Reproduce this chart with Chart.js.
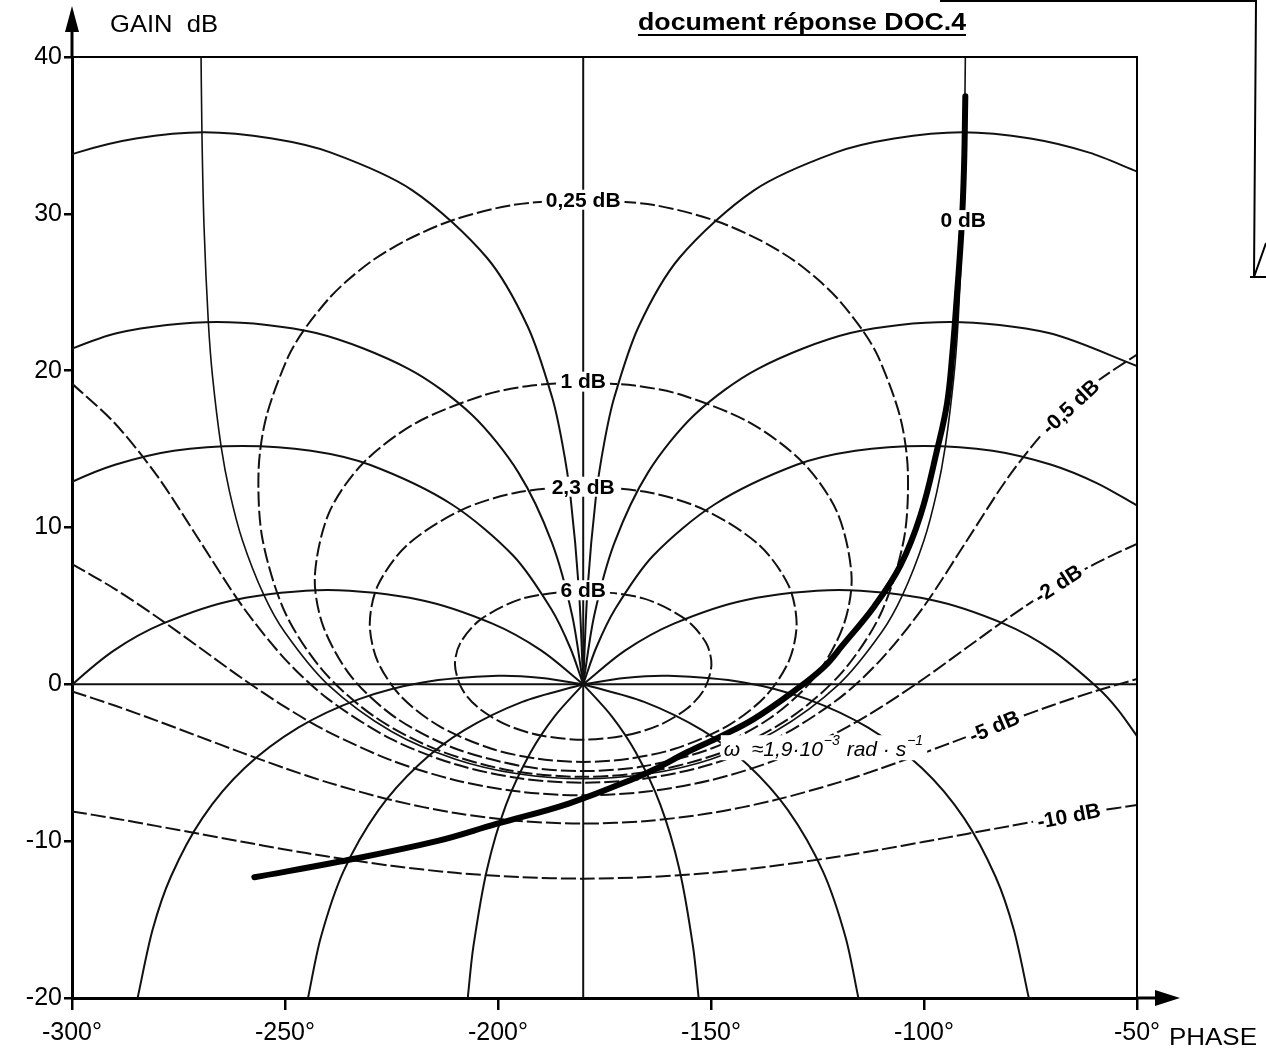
<!DOCTYPE html>
<html lang="fr">
<head>
<meta charset="UTF-8">
<title>Abaque de Black - document réponse DOC.4</title>
<script src="https://cdn.jsdelivr.net/npm/chart.js"></script>
<style>
  body { margin: 0; background: #fff; }
  canvas { display: block; }
</style>
</head>
<body>
<canvas id="black" width="1266" height="1054"></canvas>
<script>
// graduations
const phaseTicks = [-300, -250, -200, -150, -100, -50];
const gainTicks = [-20, -10, 0, 10, 20, 30, 40];

const module025 = [[-180,30.94],[-163.4,30.56],[-149.3,29.59],[-138.5,28.32],[-130.5,27.02],[-124.7,25.76],[-120.3,24.6],[-114.4,22.57],[-110.7,20.86],[-105.6,17.05],[-103.8,13.64],[-104.7,9.28],[-110.1,4.53],[-119.1,0.81],[-131,-2.06],[-145.6,-4.16],[-162.8,-5.49],[-180,-5.9],[-197.2,-5.49],[-214.4,-4.16],[-229,-2.06],[-240.9,0.81],[-249.9,4.53],[-255.3,9.28],[-256.2,13.64],[-254.4,17.05],[-249.3,20.86],[-245.6,22.57],[-239.7,24.6],[-235.3,25.76],[-229.5,27.02],[-221.5,28.32],[-210.7,29.59],[-196.6,30.56],[-180,30.94]];
const module1 = [[-180,19.27],[-167.9,19.05],[-157,18.46],[-140.7,16.66],[-128.3,14.1],[-120.3,10.92],[-117,6.86],[-119,3.68],[-125.7,0.44],[-136.1,-2.15],[-149.6,-4.06],[-165.9,-5.23],[-180,-5.53],[-194.1,-5.23],[-210.4,-4.06],[-223.9,-2.15],[-234.3,0.44],[-241,3.68],[-243,6.86],[-239.7,10.92],[-231.7,14.1],[-219.3,16.66],[-203,18.46],[-192.1,19.05],[-180,19.27]];
const module23 = [[-180,12.67],[-164.2,12.22],[-151.4,11.11],[-138.7,8.89],[-131.8,6.31],[-129.9,3.86],[-131.7,1.5],[-137.2,-0.76],[-146.3,-2.68],[-158.5,-4.11],[-169.2,-4.74],[-180,-4.95],[-190.8,-4.74],[-201.5,-4.11],[-213.7,-2.68],[-222.8,-0.76],[-228.3,1.5],[-230.1,3.86],[-228.2,6.31],[-221.3,8.89],[-208.6,11.11],[-195.8,12.22],[-180,12.67]];
const module6 = [[-180,6.04],[-165.9,5.48],[-156.1,4.17],[-151.2,2.66],[-149.9,1.25],[-151.6,-0.32],[-155.6,-1.54],[-162.3,-2.62],[-170.1,-3.26],[-180,-3.53],[-189.9,-3.26],[-197.7,-2.62],[-204.4,-1.54],[-208.4,-0.32],[-210.1,1.25],[-208.8,2.66],[-203.9,4.17],[-194.1,5.48],[-180,6.04]];
const module0 = [[-269.75,41.2],[-269.5,35.16],[-269,29.14],[-268,23.12],[-267,19.6],[-265,15.17],[-263,12.26],[-260,9.19],[-255,5.72],[-250,3.3],[-240,0],[-225,-3.01],[-210,-4.77],[-195,-5.72],[-180,-6.02],[-165,-5.72],[-150,-4.77],[-135,-3.01],[-120,0],[-110,3.3],[-105,5.72],[-100,9.19],[-97,12.26],[-95,15.17],[-93,19.6],[-92,23.12],[-91,29.14],[-90.5,35.16],[-90.25,41.2]];
const moduleM05 = [[-300,19.18],[-290,16.66],[-280,13.29],[-270,9.14],[-260,4.98],[-250,1.61],[-240,-0.91],[-225,-3.5],[-210,-5.1],[-195,-5.99],[-180,-6.27],[-165,-5.99],[-150,-5.1],[-135,-3.5],[-120,-0.91],[-110,1.61],[-100,4.98],[-90,9.14],[-80,13.29],[-70,16.66],[-60,19.18],[-50,21.03]];
const moduleM2 = [[-300,7.67],[-290,6.09],[-280,4.28],[-270,2.33],[-260,0.37],[-250,-1.44],[-240,-3.01],[-225,-4.85],[-210,-6.11],[-195,-6.84],[-180,-7.08],[-165,-6.84],[-150,-6.11],[-135,-4.85],[-120,-3.01],[-110,-1.44],[-100,0.37],[-90,2.33],[-80,4.28],[-70,6.09],[-60,7.67],[-50,8.96]];
const moduleM5 = [[-300,-0.45],[-290,-1.35],[-280,-2.33],[-270,-3.35],[-260,-4.37],[-250,-5.35],[-240,-6.25],[-225,-7.38],[-210,-8.21],[-195,-8.71],[-180,-8.88],[-165,-8.71],[-150,-8.21],[-135,-7.38],[-120,-6.25],[-110,-5.35],[-100,-4.37],[-90,-3.35],[-80,-2.33],[-70,-1.35],[-60,-0.45],[-50,0.34]];
const moduleM10 = [[-300,-8.1],[-290,-8.55],[-280,-9.04],[-270,-9.54],[-260,-10.04],[-250,-10.53],[-240,-10.98],[-225,-11.57],[-210,-12.02],[-195,-12.29],[-180,-12.39],[-165,-12.29],[-150,-12.02],[-135,-11.57],[-120,-10.98],[-110,-10.53],[-100,-10.04],[-90,-9.54],[-80,-9.04],[-70,-8.55],[-60,-8.1],[-50,-7.7]];

// contours iso-phase (traits pleins)
const phaseAxe = [[-180,-20],[-180,40]];
const gainZero = [[-300,0],[-50,0]];
const phaseD1 = [[-180,0],[-179,6],[-177,12],[-175.1,15.35],[-172.7,18.3],[-167,22.8],[-157.4,27.2],[-139.9,31.5],[-120.8,33.9],[-107,34.8],[-91,35.2],[-75,34.8],[-61.2,33.9],[-50,32.7]];
const phaseG1 = [[-180,0],[-181,6],[-183,12],[-184.9,15.35],[-187.3,18.3],[-193,22.8],[-202.6,27.2],[-220.1,31.5],[-239.2,33.9],[-253,34.8],[-269,35.2],[-285,34.8],[-298.8,33.9],[-310,32.7]];
const phaseD4 = [[-180,0],[-177.4,4.4],[-172.7,9],[-164.8,13.5],[-153.8,17.2],[-139.1,20.1],[-117.3,22.4],[-94,23.1],[-70.7,22.4],[-50,20.3]];
const phaseG4 = [[-180,0],[-182.6,4.4],[-187.3,9],[-195.2,13.5],[-206.2,17.2],[-220.9,20.1],[-242.7,22.4],[-266,23.1],[-289.3,22.4],[-310,20.3]];
const phaseD10 = [[-180,0],[-177,2.3],[-172.5,4.8],[-163.6,8.2],[-149,11.5],[-129.9,14],[-116.1,14.9],[-100,15.2],[-83.9,14.9],[-70.1,14],[-59.2,12.8],[-50,11.4]];
const phaseG10 = [[-180,0],[-183,2.3],[-187.5,4.8],[-196.4,8.2],[-211,11.5],[-230.1,14],[-243.9,14.9],[-260,15.2],[-276.1,14.9],[-289.9,14],[-300.8,12.8],[-310,11.4]];
const phaseD30 = [[-180,0],[-170.2,2.15],[-158.7,3.87],[-141.8,5.38],[-120,6.02],[-98.2,5.38],[-81.3,3.87],[-69.8,2.15],[-59.1,-0.25],[-54.4,-1.64],[-50,-3.3]];
const phaseG30 = [[-180,0],[-189.8,2.15],[-201.3,3.87],[-218.2,5.38],[-240,6.02],[-261.8,5.38],[-278.7,3.87],[-290.2,2.15],[-300.9,-0.25],[-305.6,-1.64]];
const phaseBasG30 = [[-180,0],[-186.8,-2.07],[-192.3,-4.32],[-198.1,-7.67],[-202.6,-11.82],[-205.8,-16.76],[-207.1,-20]];
const phaseBasD30 = [[-180,0],[-173.2,-2.07],[-167.7,-4.32],[-161.9,-7.67],[-157.4,-11.82],[-154.2,-16.76],[-152.9,-20]];
const phaseD70 = [[-180,0],[-170.3,0.4],[-160,0.54],[-142.3,0.12],[-127.4,-0.94],[-113.2,-2.75],[-100.4,-5.37],[-90.6,-8.53],[-83.2,-12.27],[-78.9,-15.67],[-75.4,-20]];
const phaseG70 = [[-180,0],[-189.7,0.4],[-200,0.54],[-217.7,0.12],[-232.6,-0.94],[-246.8,-2.75],[-259.6,-5.37],[-269.4,-8.53],[-276.8,-12.27],[-281.1,-15.67],[-284.6,-20]];
const phaseBasG70 = [[-180,0],[-194.3,-1.12],[-208,-2.94],[-218.6,-5.13],[-228.1,-8.04],[-236.3,-11.94],[-241.6,-16.14],[-244.6,-20]];
const phaseBasD70 = [[-180,0],[-165.7,-1.12],[-152,-2.94],[-141.4,-5.13],[-131.9,-8.04],[-123.7,-11.94],[-118.4,-16.14],[-115.4,-20]];

// lieu de transfert tracé à la main (trait épais)
const lieu = [[-90.3,37.5],[-90.6,33],[-91.2,29],[-92.3,24.7],[-93.4,20.9],[-94.6,17.9],[-96.8,15.1],[-100.8,10.8],[-105.5,7.6],[-111.6,5],[-119.1,2.5],[-123.5,1.1],[-130.6,-0.45],[-139.9,-2.2],[-147.6,-3.3],[-155.4,-4.3],[-163.1,-5.4],[-168,-6],[-183.4,-7.6],[-200.4,-8.9],[-214.4,-10],[-237.1,-11.3],[-257.2,-12.3]];

const fonte = '"Liberation Sans", Arial, sans-serif';

const etiquettes = [
    { t: '0,25 dB', x: -180, y: 30.9, a: 0 },
    { t: '1 dB', x: -180, y: 19.3, a: 0 },
    { t: '2,3 dB', x: -180, y: 12.6, a: 0 },
    { t: '6 dB', x: -180, y: 6.0, a: 0 },
    { t: '0 dB', x: -90.8, y: 29.6, a: 0 },
    { t: '-0,5 dB', x: -65.6, y: 17.7, a: -43 },
    { t: '-2 dB', x: -68.5, y: 6.4, a: -33 },
    { t: '-5 dB', x: -83.5, y: -2.7, a: -23 },
    { t: '-10 dB', x: -66, y: -8.4, a: -11 }
];

function serie(points, opts) {
    return Object.assign({
        data: points.map(p => ({ x: p[0], y: p[1] })),
        showLine: true,
        pointRadius: 0,
        borderColor: '#111',
        borderWidth: 2,
        tension: 0.3,
        fill: false,
        order: 1
    }, opts);
}
const tirets = { borderDash: [15, 4] };

const datasets = [
    serie(lieu, { borderWidth: 6, borderCapStyle: 'round', borderJoinStyle: 'round', order: 0, borderColor: '#000', tension: 0.4 }),
    serie(module025, tirets), serie(module1, tirets), serie(module23, tirets), serie(module6, tirets),
    serie(module0, { borderWidth: 1.6 }), serie(moduleM05, tirets), serie(moduleM2, tirets), serie(moduleM5, tirets), serie(moduleM10, tirets),
    serie(phaseAxe), serie(gainZero),
    serie(phaseD1), serie(phaseG1), serie(phaseD4), serie(phaseG4), serie(phaseD10), serie(phaseG10),
    serie(phaseD30), serie(phaseG30), serie(phaseBasG30), serie(phaseBasD30),
    serie(phaseD70), serie(phaseG70), serie(phaseBasG70), serie(phaseBasD70)
];

function texteAjuste(ctx, txt, x, y, largeur) {
    const m = ctx.measureText(txt).width;
    ctx.save();
    ctx.translate(x, y);
    ctx.scale(largeur / m, 1);
    ctx.fillText(txt, 0, 0);
    ctx.restore();
}

const habillage = {
    id: 'habillage',
    afterDraw(chart) {
        const { ctx, chartArea: a, scales: { x, y } } = chart;
        ctx.save();
        ctx.strokeStyle = '#000';
        ctx.fillStyle = '#000';

        // cadre haut / droite
        ctx.lineWidth = 2;
        ctx.beginPath();
        ctx.moveTo(a.left, a.top);
        ctx.lineTo(a.right, a.top);
        ctx.lineTo(a.right, a.bottom);
        ctx.stroke();

        // flèches des axes
        ctx.lineWidth = 3;
        ctx.beginPath();
        ctx.moveTo(a.left, a.top);
        ctx.lineTo(a.left, 20);
        ctx.moveTo(a.right, a.bottom);
        ctx.lineTo(1165, a.bottom);
        ctx.stroke();
        ctx.beginPath();
        ctx.moveTo(a.left, 6);
        ctx.lineTo(a.left - 7, 32);
        ctx.lineTo(a.left + 7, 32);
        ctx.closePath();
        ctx.fill();
        ctx.beginPath();
        ctx.moveTo(1180, a.bottom);
        ctx.lineTo(1155, a.bottom - 8);
        ctx.lineTo(1155, a.bottom + 8);
        ctx.closePath();
        ctx.fill();

        // cadre voisin coupé à droite
        ctx.lineWidth = 2;
        ctx.beginPath();
        ctx.moveTo(940, 1);
        ctx.lineTo(1256, 1);
        ctx.lineTo(1254, 277);
        ctx.moveTo(1250, 277);
        ctx.lineTo(1266, 277);
        ctx.moveTo(1254, 277);
        ctx.lineTo(1266, 243);
        ctx.stroke();

        // textes hors du graphe
        ctx.textAlign = 'left';
        ctx.textBaseline = 'alphabetic';
        ctx.font = 'bold 24px ' + fonte;
        texteAjuste(ctx, 'document réponse DOC.4', 638, 30, 328);
        ctx.lineWidth = 2;
        ctx.beginPath();
        ctx.moveTo(638, 35);
        ctx.lineTo(966, 35);
        ctx.stroke();
        ctx.font = '24px ' + fonte;
        texteAjuste(ctx, 'GAIN  dB', 110, 32, 108);
        texteAjuste(ctx, 'PHASE', 1169, 1045, 88);

        // étiquettes des contours
        ctx.font = 'bold 21px ' + fonte;
        ctx.textAlign = 'center';
        ctx.textBaseline = 'middle';
        etiquettes.forEach(e => {
            ctx.save();
            ctx.translate(x.getPixelForValue(e.x), y.getPixelForValue(e.y));
            ctx.rotate(e.a * Math.PI / 180);
            const w = ctx.measureText(e.t).width;
            ctx.fillStyle = '#fff';
            ctx.fillRect(-w / 2 - 4, -10, w + 8, 20);
            ctx.fillStyle = '#000';
            ctx.fillText(e.t, 0, 1);
            ctx.restore();
        });

        // pulsation de résonance
        const morceaux = [['ω  ≈1,9·10', false], ['−3', true], [' rad · s', false], ['−1', true]];
        let px = x.getPixelForValue(-147);
        const py = y.getPixelForValue(-4.2);
        const police = sup => (sup ? 'italic 14px ' : 'italic 21px ') + fonte;
        let total = 0;
        morceaux.forEach(m => { ctx.font = police(m[1]); total += ctx.measureText(m[0]).width + 1; });
        ctx.fillStyle = '#fff';
        ctx.fillRect(px - 3, py - 15, total + 6, 25);
        ctx.fillStyle = '#000';
        ctx.textAlign = 'left';
        morceaux.forEach(m => {
            ctx.font = police(m[1]);
            ctx.fillText(m[0], px, m[1] ? py - 9 : py);
            px += ctx.measureText(m[0]).width + 1;
        });
        ctx.restore();
    }
};

new Chart(document.getElementById('black').getContext('2d'), {
    type: 'scatter',
    data: { datasets: datasets },
    options: {
        responsive: false,
        animation: false,
        events: [],
        layout: { padding: { top: 57, right: 129, left: 0, bottom: 0 } },
        plugins: { legend: { display: false }, tooltip: { enabled: false } },
        scales: {
            x: {
                type: 'linear',
                min: phaseTicks[0],
                max: phaseTicks[phaseTicks.length - 1],
                afterBuildTicks: s => { s.ticks = phaseTicks.map(v => ({ value: v })); },
                afterFit: s => { s.height = 56; },
                ticks: { callback: v => v + '°', color: '#000', font: { family: fonte, size: 25 }, padding: 8, maxRotation: 0, autoSkip: false },
                grid: { drawOnChartArea: false, drawTicks: true, tickLength: 12, color: '#000', lineWidth: 2.5 },
                border: { display: true, color: '#000', width: 3 }
            },
            y: {
                type: 'linear',
                min: gainTicks[0],
                max: gainTicks[gainTicks.length - 1],
                afterBuildTicks: s => { s.ticks = gainTicks.map(v => ({ value: v })); },
                afterFit: s => { s.width = 72; },
                ticks: { color: '#000', font: { family: fonte, size: 25 }, padding: 2, autoSkip: false },
                grid: { drawOnChartArea: false, drawTicks: true, tickLength: 8, color: '#000', lineWidth: 2.5 },
                border: { display: true, color: '#000', width: 3 }
            }
        }
    },
    plugins: [habillage]
});
</script>
</body>
</html>
